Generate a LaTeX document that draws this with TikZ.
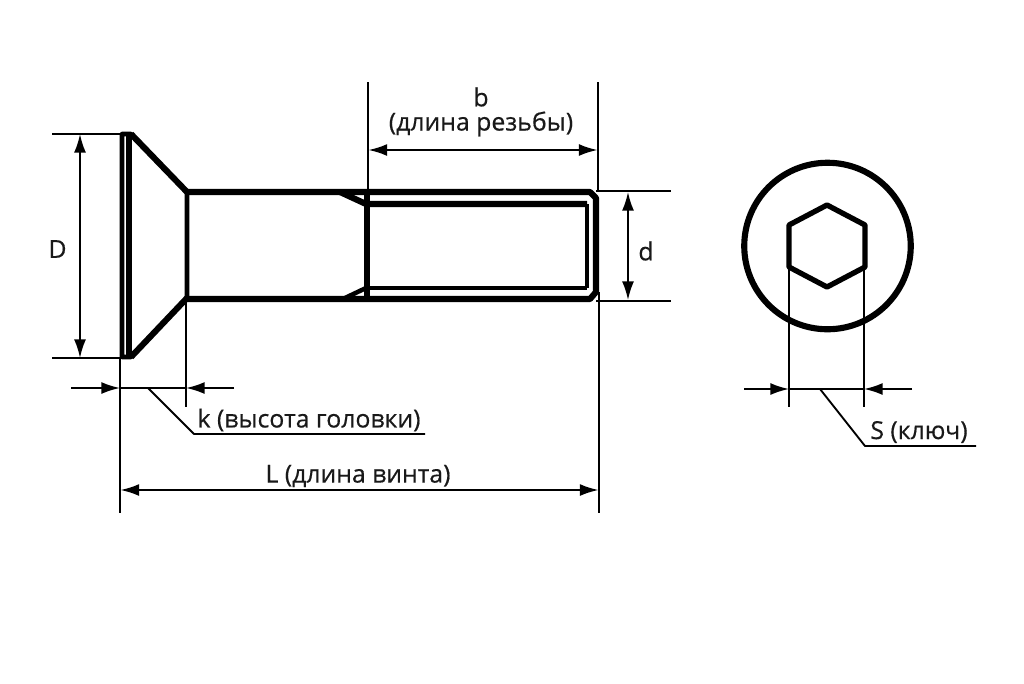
\documentclass[tikz,border=0pt]{standalone}
\usepackage{fontspec}
\setmainfont{Open Sans}[FakeBold=0.5]
\usetikzlibrary{arrows.meta}
\begin{document}
\begin{tikzpicture}[x=0.75pt,y=-0.75pt,line join=round,draw=black!100]
	\useasboundingbox (0,0) rectangle (1024,683);
	\def \thick{4.6pt}
	\def \thin{1.4pt}
	\def \tip{Latex[length=14pt,width=9pt]}
	\tikzstyle{body-line}=[line width=\thick]
	\tikzstyle{ext-line}=[line width=\thin]
	\tikzstyle{dim-line}=[line width=\thin,{\tip}-{\tip}]
	\tikzstyle{lead-arrow}=[line width=\thin,-{\tip}]
	\tikzstyle{label}=[inner sep=0pt,font=\fontsize{18.6}{20}\selectfont,text=black!90]
	% head
	\draw[line width=3.4pt] (122,134) -- (131,134) -- (187,192) -- (187,298) -- (131,357) -- (122,357) -- cycle;
	\draw[body-line] (131,134) -- (187,192);
	\draw[body-line] (131,357) -- (187,298);
	\draw[body-line] (129,134) -- (129,357);
	% shank and thread
	\draw[body-line] (187,192) -- (590,192) -- (596,198) -- (596,292) -- (590,299) -- (187,299);
	\draw[line width=3.8pt] (367,192) -- (367,298);
	\draw[body-line] (340,192) -- (366,204) -- (587,204);
	\draw[line width=3.4pt] (587,204) -- (587,288);
	\draw[line width=2.6pt] (366,288) -- (587,288);
	\draw[line width=3.4pt] (345,298) -- (366,288);
	% end view
	\node[circle,draw,line width=\thick,minimum size=166.5*0.75pt,inner sep=0pt] (headcircle) at (827.5,246) {};
	\draw[line width=4pt] (827,205) -- (865,225) -- (865,267) -- (827,287) -- (789,267) -- (789,225) -- cycle;
	% extension lines
	\draw[ext-line] (52,134) -- (122,134);
	\draw[ext-line] (52,358) -- (122,358);
	\draw[ext-line] (120,358) -- (120,513);
	\draw[ext-line] (186,298) -- (186,407);
	\draw[ext-line] (368,82) -- (368,192);
	\draw[ext-line] (598,82) -- (598,192);
	\draw[ext-line] (596,191) -- (671,191);
	\draw[ext-line] (596,301) -- (671,301);
	\draw[ext-line] (599,292) -- (599,513);
	\draw[ext-line] (789,268) -- (789,407);
	\draw[ext-line] (864,268) -- (864,407);
	% sizes
	\draw[dim-line] (80,134) -- (80,358);
	\draw[dim-line] (628,192) -- (628,300);
	\draw[dim-line] (368.5,150) -- (597.5,150);
	\draw[dim-line] (120.5,490) -- (598.5,490);
	\draw[lead-arrow] (71,388) -- (120,388);
	\draw[lead-arrow] (234,388) -- (186,388);
	\draw[ext-line] (120,388) -- (186,388);
	\draw[lead-arrow] (744,389) -- (789,389);
	\draw[lead-arrow] (912,389) -- (864,389);
	\draw[ext-line] (789,389) -- (864,389);
	% leaders
	\draw[ext-line] (148,388) -- (194,434) -- (425,434);
	\draw[ext-line] (820,389) -- (865,446) -- (976,446);
	% labels
	\node[label] (Dlabel)	at (57.5,249)	{D};
	\node[label] (dlabel)	at (646,251)	{d};
	\node[label] (blabel)	at (481,97)		{b};
	\node[label] (blong)	at (481,124)	{(длина резьбы)};
	\node[label] (klabel)	at (309,420)	{k (высота головки)};
	\node[label] (Llabel)	at (358,476)	{L (длина винта)};
	\node[label] (Slabel)	at (919,432)	{S (ключ)};
\end{tikzpicture}
\end{document}
